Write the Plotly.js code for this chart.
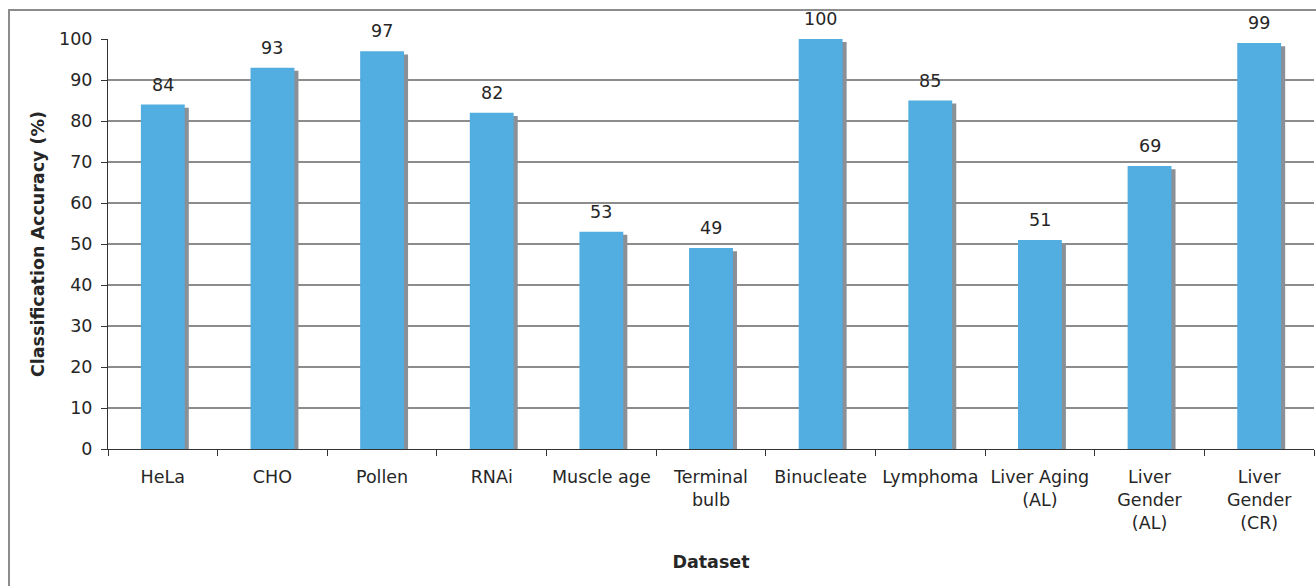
<!DOCTYPE html>
<html>
<head>
<meta charset="utf-8">
<script src="https://cdn.plot.ly/plotly-3.0.1.min.js"></script>
<style>
  html, body { margin: 0; padding: 0; background: #fff; }
  #wrap { position: relative; width: 1316px; height: 586px; overflow: hidden; }
  #chart { position: absolute; left: 0; top: 0; width: 1316px; height: 586px; }
  #frame { position: absolute; left: 8px; top: 9px; width: 1400px; height: 700px;
           border-left: 2px solid #8c8c8c; border-top: 2px solid #8c8c8c; pointer-events: none; }
</style>
</head>
<body>
<div id="wrap">
  <div id="chart"></div>
  <div id="frame"></div>
</div>
<script>
// ---- data ----
const categories = ["HeLa", "CHO", "Pollen", "RNAi", "Muscle age", "Terminal<br>bulb",
  "Binucleate", "Lymphoma", "Liver Aging<br>(AL)", "Liver<br>Gender<br>(AL)", "Liver<br>Gender<br>(CR)"];
const accuracy = [84, 93, 97, 82, 53, 49, 100, 85, 51, 69, 99];
const yTicks = [0, 10, 20, 30, 40, 50, 60, 70, 80, 90, 100];

const FONT = "DejaVu Sans, Verdana, sans-serif";
const TXT = "#262626";

const shadow = {
  type: "bar",
  x: categories,
  y: accuracy.map(v => v - 0.75),
  width: 0.4,
  offset: -0.2 + 0.037,
  marker: { color: "#8a9095", line: { width: 0 } },
  hoverinfo: "skip",
  showlegend: false
};
const main = {
  type: "bar",
  x: categories,
  y: accuracy,
  width: 0.4,
  offset: -0.2,
  marker: { color: "#52ade0", line: { width: 0 } },
  showlegend: false
};

const annotations = categories.map((c, i) => ({
  x: c, y: accuracy[i], xref: "x", yref: "y",
  text: String(accuracy[i]), showarrow: false,
  yanchor: "bottom", yshift: 8,
  font: { family: FONT, size: 17.5, color: TXT }
}));

const layout = {
  width: 1316, height: 586,
  margin: { l: 108, r: 2, t: 39, b: 137, pad: 0 },
  paper_bgcolor: "rgba(0,0,0,0)",
  plot_bgcolor: "#fff",
  barmode: "overlay",
  font: { family: FONT, size: 17.5, color: TXT },
  xaxis: {
    type: "category",
    tickson: "boundaries",
    ticks: "outside", ticklen: 6, tickcolor: "#333", tickwidth: 1,
    ticklabelstandoff: 12,
    showline: true, linecolor: "#333", linewidth: 1,
    showgrid: false,
    tickfont: { family: FONT, size: 17.5, color: TXT },
    title: { text: "<b>Dataset</b>", standoff: 24, font: { family: FONT, size: 17.5, color: TXT } },
    automargin: false,
    fixedrange: true
  },
  yaxis: {
    range: [0, 100],
    tickvals: yTicks,
    ticks: "outside", ticklen: 6, tickcolor: "#333", tickwidth: 1,
    ticklabelstandoff: 5,
    showline: true, linecolor: "#333", linewidth: 1,
    showgrid: true, gridcolor: "#8c8c8c", gridwidth: 1.2,
    zeroline: false,
    tickfont: { family: FONT, size: 17.5, color: TXT },
    title: { text: "<b>Classification Accuracy (%)</b>", standoff: 9, font: { family: FONT, size: 17.5, color: TXT } },
    automargin: false,
    fixedrange: true
  },
  annotations: annotations
};

Plotly.newPlot("chart", [shadow, main], layout, { displayModeBar: false, staticPlot: true });
</script>
</body>
</html>
